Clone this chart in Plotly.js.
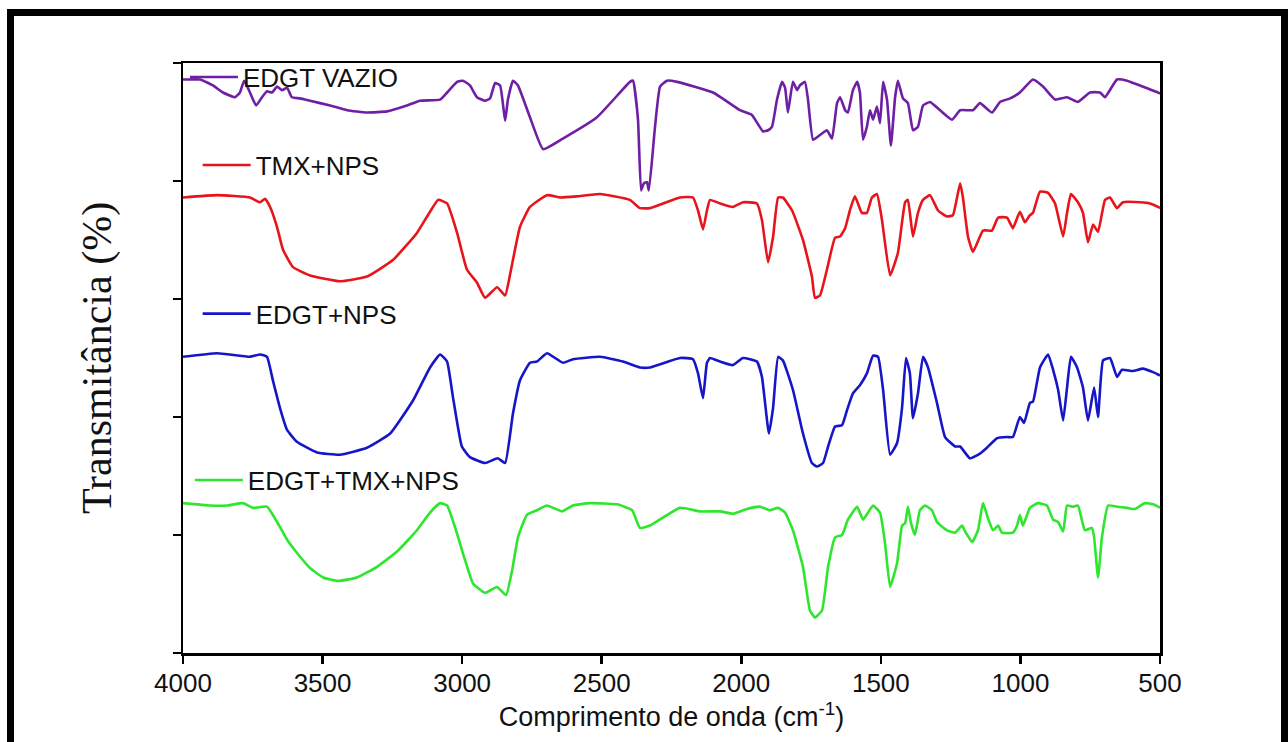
<!DOCTYPE html>
<html>
<head>
<meta charset="utf-8">
<script src="https://cdn.plot.ly/plotly-3.0.1.min.js"></script>
<style>
  html, body { margin: 0; padding: 0; background: #ffffff; overflow: hidden; }
  #chart { position: absolute; left: 0; top: 0; width: 1288px; height: 742px; }
  #frame { position: absolute; left: 7px; top: 9px; width: 1267px; height: 760px;
           border: 7px solid #000; pointer-events: none; }
</style>
</head>
<body>
<div id="chart"></div>
<div id="frame"></div>
<script>
// Wavenumber tick labels
const xTicks = [4000, 3500, 3000, 2500, 2000, 1500, 1000, 500];

// EDGT VAZIO (purple)
const vazioX = [4000,3993,3939,3893,3857,3814,3796,3781,3760,3738,3717,3699,3681,3663,3645,3627,3610,3581,3545,3473,3412,3341,3269,3198,3151,3079,3054,3018,2997,2972,2947,2918,2900,2882,2864,2846,2836,2818,2800,2757,2710,2639,2517,2399,2388,2370,2359,2349,2338,2331,2309,2291,2266,2230,2101,2005,1962,1922,1904,1890,1872,1854,1843,1833,1815,1800,1790,1772,1761,1743,1718,1693,1675,1657,1646,1628,1618,1600,1585,1575,1564,1550,1539,1528,1514,1503,1492,1478,1464,1449,1439,1421,1403,1385,1367,1349,1324,1288,1245,1216,1170,1145,1102,1073,1037,1002,955,919,876,833,794,751,715,697,654,618,572,507,500];
const vazioY = [4.86,4.86,4.86,4.81,4.75,4.71,4.75,4.85,4.75,4.64,4.71,4.76,4.75,4.80,4.77,4.79,4.71,4.70,4.68,4.64,4.60,4.58,4.59,4.64,4.68,4.69,4.75,4.84,4.85,4.81,4.71,4.68,4.70,4.83,4.81,4.51,4.69,4.85,4.81,4.54,4.27,4.36,4.54,4.84,4.85,4.52,3.92,3.98,3.99,3.92,4.46,4.80,4.85,4.84,4.75,4.60,4.56,4.42,4.43,4.46,4.69,4.84,4.79,4.58,4.84,4.77,4.81,4.84,4.69,4.35,4.39,4.43,4.36,4.66,4.71,4.60,4.58,4.77,4.84,4.75,4.35,4.46,4.60,4.52,4.63,4.49,4.84,4.69,4.30,4.71,4.85,4.70,4.66,4.43,4.46,4.64,4.67,4.60,4.52,4.60,4.60,4.66,4.58,4.67,4.70,4.75,4.86,4.80,4.69,4.71,4.67,4.75,4.75,4.71,4.86,4.85,4.81,4.75,4.74];

// TMX+NPS (red)
const tmxX = [4000,3878,3760,3724,3706,3688,3663,3642,3606,3545,3438,3341,3248,3162,3115,3086,3054,3018,2983,2947,2918,2875,2846,2829,2793,2757,2696,2649,2589,2506,2399,2363,2327,2220,2173,2155,2137,2123,2112,2076,2030,1994,1944,1926,1904,1886,1868,1851,1818,1779,1747,1736,1718,1693,1664,1646,1628,1611,1593,1568,1550,1532,1514,1496,1467,1439,1413,1403,1385,1367,1349,1324,1295,1263,1242,1216,1206,1188,1170,1134,1102,1080,1048,1027,1002,984,966,955,930,901,876,847,833,819,794,776,758,740,722,697,679,654,633,572,536,507,500];
const tmxY = [3.86,3.88,3.86,3.82,3.85,3.78,3.61,3.42,3.27,3.20,3.15,3.19,3.33,3.56,3.74,3.84,3.81,3.56,3.25,3.14,3.01,3.10,3.03,3.20,3.61,3.78,3.88,3.86,3.87,3.89,3.84,3.77,3.77,3.86,3.86,3.75,3.59,3.75,3.84,3.81,3.78,3.82,3.81,3.67,3.31,3.53,3.86,3.86,3.75,3.50,3.19,3.01,3.03,3.25,3.52,3.53,3.60,3.75,3.87,3.73,3.73,3.86,3.89,3.67,3.20,3.39,3.82,3.84,3.53,3.73,3.84,3.88,3.75,3.70,3.71,3.98,3.86,3.53,3.40,3.58,3.58,3.69,3.69,3.60,3.74,3.65,3.71,3.73,3.91,3.90,3.81,3.53,3.73,3.89,3.82,3.73,3.48,3.63,3.57,3.84,3.86,3.77,3.82,3.82,3.81,3.78,3.77];

// EDGT+NPS (blue)
const edgtX = [4000,3878,3760,3724,3699,3678,3653,3627,3592,3520,3438,3341,3258,3176,3115,3079,3054,3033,3001,2972,2918,2872,2846,2818,2793,2757,2732,2696,2639,2603,2506,2424,2363,2327,2220,2173,2155,2137,2123,2112,2076,2030,1994,1944,1926,1901,1886,1868,1851,1815,1779,1747,1729,1707,1689,1664,1639,1621,1600,1575,1550,1528,1510,1492,1467,1442,1424,1410,1396,1385,1367,1349,1331,1299,1270,1234,1216,1181,1145,1120,1084,1048,1027,1002,987,966,955,930,901,883,865,847,833,819,797,776,758,736,722,704,679,654,636,597,561,525,507,500];
const edgtY = [2.51,2.54,2.51,2.53,2.51,2.31,2.08,1.89,1.79,1.70,1.68,1.74,1.86,2.14,2.42,2.53,2.47,2.17,1.75,1.66,1.61,1.65,1.61,2.03,2.31,2.46,2.47,2.54,2.46,2.49,2.51,2.47,2.42,2.42,2.50,2.49,2.37,2.16,2.46,2.50,2.47,2.44,2.50,2.47,2.34,1.86,2.08,2.51,2.48,2.23,1.86,1.61,1.58,1.61,1.75,1.92,1.93,2.06,2.20,2.27,2.37,2.52,2.51,2.23,1.68,1.78,2.08,2.50,2.37,1.99,2.20,2.51,2.42,2.12,1.83,1.75,1.75,1.65,1.69,1.74,1.82,1.83,1.83,2.00,1.95,2.12,2.13,2.42,2.53,2.40,2.23,1.97,2.25,2.51,2.42,2.25,1.97,2.25,2.00,2.48,2.50,2.34,2.40,2.39,2.41,2.38,2.36,2.35];

// EDGT+TMX+NPS (green)
const edgtTmxX = [4000,3903,3842,3785,3749,3699,3678,3653,3627,3592,3545,3498,3445,3377,3305,3233,3162,3115,3079,3054,3026,2990,2961,2918,2875,2843,2821,2800,2768,2732,2696,2642,2603,2542,2445,2391,2363,2327,2220,2148,2076,2030,1980,1933,1897,1868,1843,1815,1779,1754,1736,1711,1689,1664,1639,1618,1585,1564,1546,1528,1503,1485,1467,1442,1424,1413,1403,1392,1378,1360,1342,1317,1299,1263,1234,1209,1198,1173,1152,1134,1116,1098,1080,1066,1027,1012,1002,991,966,937,905,883,865,847,833,812,794,769,744,736,722,708,686,654,618,590,554,525,507,500];
const edgtTmxY = [1.27,1.25,1.25,1.27,1.23,1.24,1.17,1.07,0.96,0.85,0.72,0.64,0.61,0.64,0.73,0.86,1.04,1.19,1.27,1.25,1.07,0.79,0.59,0.51,0.56,0.49,0.70,0.98,1.17,1.21,1.25,1.20,1.25,1.27,1.26,1.21,1.06,1.08,1.23,1.20,1.20,1.18,1.22,1.24,1.21,1.23,1.19,1.04,0.73,0.36,0.30,0.36,0.73,0.98,1.00,1.13,1.24,1.13,1.19,1.25,1.19,0.93,0.56,0.76,1.08,1.10,1.24,1.10,1.00,1.21,1.25,1.21,1.11,1.04,1.02,1.08,1.03,0.94,1.04,1.27,1.14,1.04,1.08,1.02,1.02,1.08,1.17,1.08,1.23,1.27,1.25,1.13,1.11,1.03,1.25,1.24,1.25,1.04,1.06,0.98,0.64,0.98,1.25,1.24,1.23,1.22,1.27,1.26,1.24,1.23];

const names = ['EDGT VAZIO', 'TMX+NPS', 'EDGT+NPS', 'EDGT+TMX+NPS'];
const colors = ['#6f1fa3', '#e8141b', '#1616c8', '#2fe62f'];

const xs = [vazioX, tmxX, edgtX, edgtTmxX];
const ys = [vazioY, tmxY, edgtY, edgtTmxY];
const legendIds = ['legend', 'legend2', 'legend3', 'legend4'];

const traces = names.map((n, i) => ({
  x: xs[i], y: ys[i], name: n, type: 'scatter', mode: 'lines',
  line: { color: colors[i], width: 2.6, shape: 'spline', smoothing: 0.4 },
  legend: legendIds[i], showlegend: true
}));

const legFont = { family: 'Liberation Sans, Arial, sans-serif', size: 26, color: '#111' };
function leg(x, y) {
  return { x: x, y: y, xanchor: 'left', yanchor: 'middle', bgcolor: 'rgba(0,0,0,0)',
           borderwidth: 0, font: legFont, itemwidth: 48 };
}

const layout = {
  width: 1288, height: 742,
  paper_bgcolor: '#ffffff', plot_bgcolor: '#ffffff',
  margin: { l: 183, r: 128, t: 63, b: 89 },
  showlegend: true,
  legend: leg(0.002, 0.976),
  legend2: leg(0.015, 0.827),
  legend3: leg(0.015, 0.575),
  legend4: leg(0.007, 0.293),
  xaxis: {
    range: [4000, 500], tickvals: xTicks, ticktext: xTicks.map(String),
    ticks: 'outside', ticklen: 8, tickwidth: 2.5, tickcolor: '#000',
    showline: true, linewidth: 2.5, linecolor: '#000', mirror: true,
    showgrid: false, zeroline: false, ticklabelstandoff: -3,
    tickfont: { family: 'Liberation Sans, Arial, sans-serif', size: 26, color: '#111' },
    title: { text: 'Comprimento de onda (cm<sup>-1</sup>)', standoff: 10,
             font: { family: 'Liberation Sans, Arial, sans-serif', size: 27, color: '#111' } },
    automargin: false
  },
  yaxis: {
    range: [0, 5], dtick: 1, tick0: 0,
    ticks: 'outside', ticklen: 8, tickwidth: 2.5, tickcolor: '#000',
    showticklabels: false,
    showline: true, linewidth: 2.5, linecolor: '#000', mirror: true,
    showgrid: false, zeroline: false,
    title: { text: 'Transmitância (%)', standoff: 48,
             font: { family: 'Liberation Serif, Times New Roman, serif', size: 42, color: '#111' } },
    automargin: false
  }
};

Plotly.newPlot('chart', traces, layout, { displayModeBar: false, staticPlot: true });
</script>
</body>
</html>
